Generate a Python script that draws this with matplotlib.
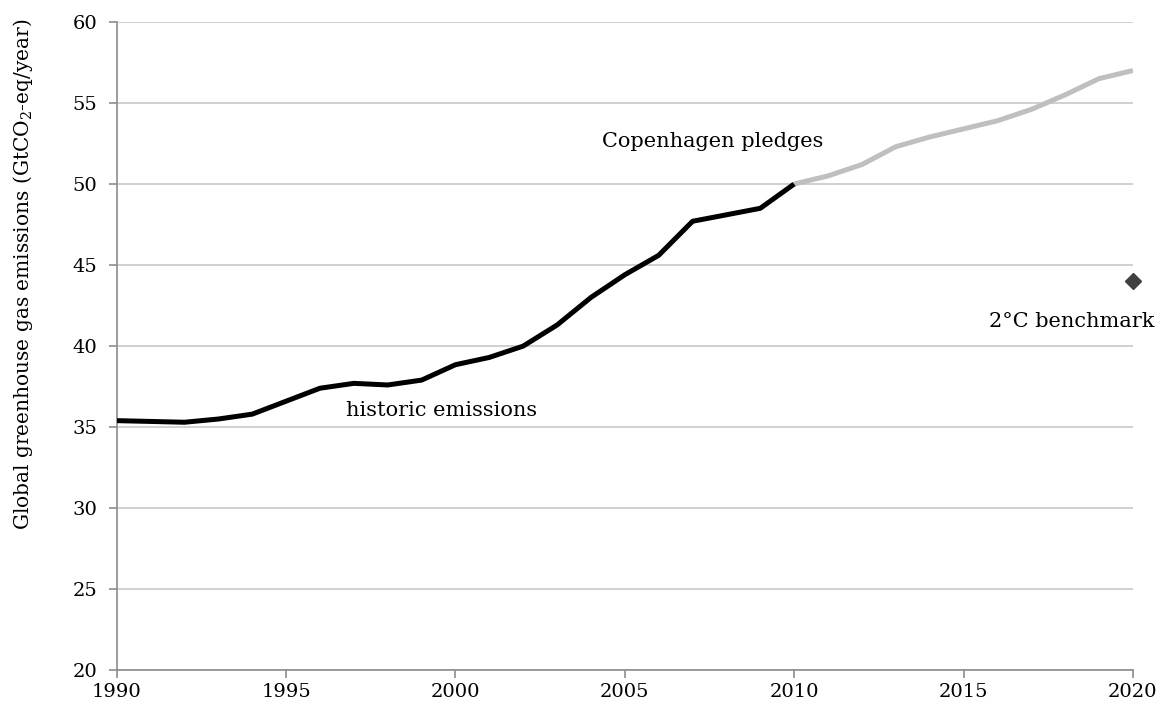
import matplotlib
matplotlib.use("Agg")
import matplotlib.pyplot as plt

plt.rcParams['font.family'] = ['DejaVu Serif']
plt.rcParams['mathtext.fontset'] = 'dejavuserif'

hist_years = list(range(1990, 2011))
hist_values = [35.4, 35.35, 35.3, 35.5, 35.8, 36.6, 37.4, 37.7, 37.6, 37.9,
               38.85, 39.3, 40.0, 41.3, 43.0, 44.4, 45.6, 47.7, 48.1, 48.5, 50.0]
pledge_years = list(range(2010, 2021))
pledge_values = [50.0, 50.5, 51.2, 52.3, 52.9, 53.4, 53.9, 54.6, 55.5, 56.5, 57.0]
bench_year = [2020]
bench_value = [44.0]
x_ticks = [1990, 1995, 2000, 2005, 2010, 2015, 2020]
y_ticks = [20, 25, 30, 35, 40, 45, 50, 55, 60]

fig = plt.figure(figsize=(11.56, 7.07), dpi=100)
ax = fig.add_axes([0.101, 0.052, 0.879, 0.917])

ax.plot(pledge_years, pledge_values, color='#BFBFBF', lw=3.6, solid_capstyle='butt', zorder=3)
ax.plot(hist_years, hist_values, color='black', lw=3.6, solid_capstyle='butt', zorder=4)
ax.plot(bench_year, bench_value, marker='D', color='#404040', ms=8, ls='none', zorder=5, clip_on=False)

ax.set_xlim(1990, 2020)
ax.set_ylim(20, 60)
ax.set_xticks(x_ticks)
ax.set_yticks(y_ticks)
ax.grid(axis='y', color='#C8C8C8', lw=1.2)
ax.set_axisbelow(True)
for s in ['top', 'right']:
    ax.spines[s].set_visible(False)
for s in ['left', 'bottom']:
    ax.spines[s].set_color('#8C8C8C')
    ax.spines[s].set_linewidth(1.2)
ax.tick_params(axis='both', direction='out', color='#8C8C8C', width=1.2, length=6, labelsize=14)
ax.tick_params(axis='x', pad=3)
ax.tick_params(axis='y', pad=8)

fig.text(23 / 1156, 1 - 274 / 707, 'Global greenhouse gas emissions (GtCO$_2$-eq/year)',
         fontsize=14.5, rotation=90, ha='center', va='center')

ax.text(2007.6, 52.6, 'Copenhagen pledges', fontsize=15, ha='center', va='center')
ax.text(1999.6, 36.05, 'historic emissions', fontsize=15, ha='center', va='center')
ax.text(2018.2, 41.5, '2°C benchmark', fontsize=15, ha='center', va='center', clip_on=False)

fig.savefig('out.png', dpi=100)
